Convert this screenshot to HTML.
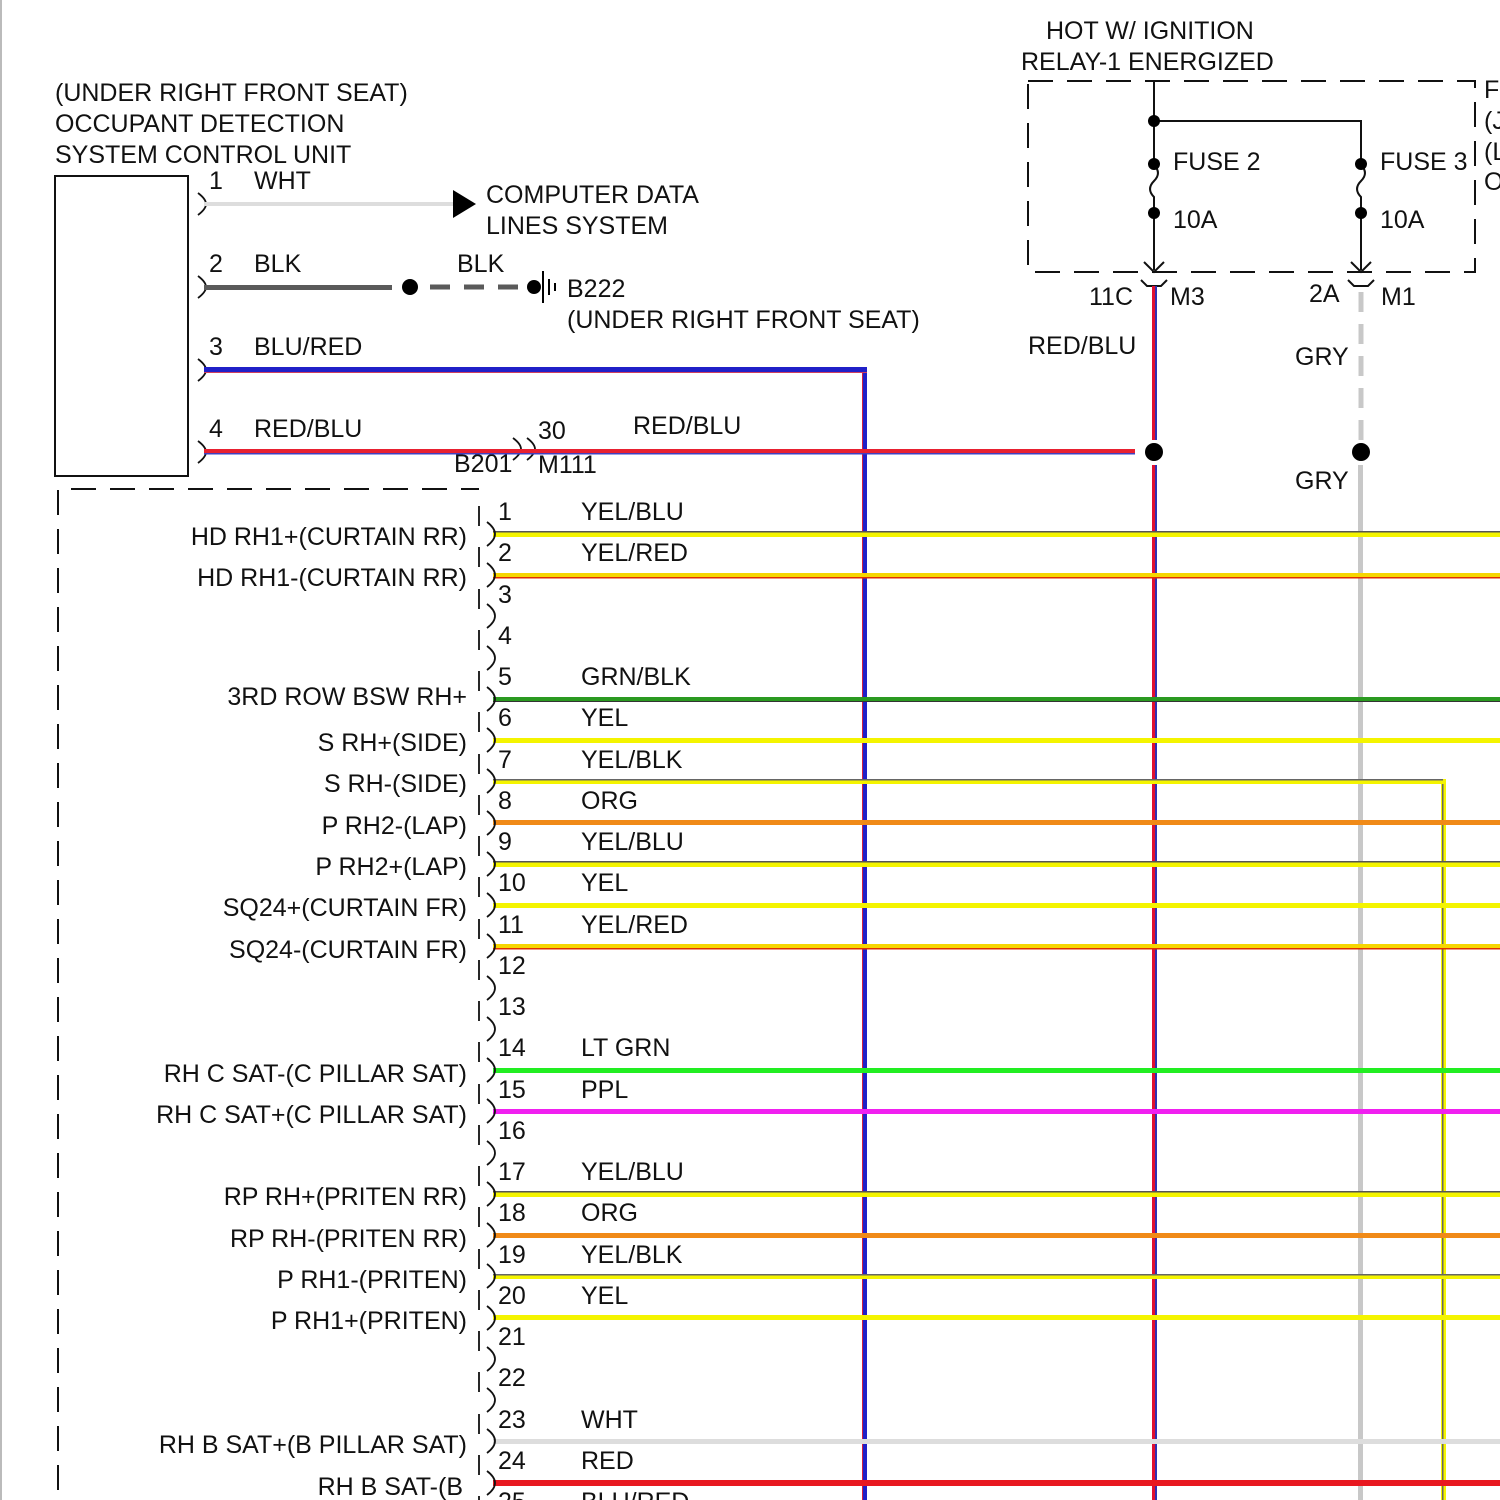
<!DOCTYPE html>
<html><head><meta charset="utf-8"><style>
html,body{margin:0;padding:0;background:#fff;width:1500px;height:1500px;overflow:hidden}
svg text{font-family:"Liberation Sans",Arial,sans-serif;font-size:25px;fill:#111}
</style></head><body>
<svg width="1500" height="1500" viewBox="0 0 1500 1500" xmlns="http://www.w3.org/2000/svg">
<rect x="0" y="0" width="2" height="1500" fill="#bbb"/>
<text x="55" y="101">(UNDER RIGHT FRONT SEAT)</text>
<text x="55" y="132">OCCUPANT DETECTION</text>
<text x="55" y="163">SYSTEM CONTROL UNIT</text>
<rect x="55" y="176" width="133" height="300" fill="none" stroke="#111" stroke-width="2"/>
<g fill="none" stroke="#111" stroke-width="1.8">
<path d="M198 193 q8 6 8 11 q0 5 -8 11"/>
<path d="M198 276 q8 6 8 11 q0 5 -8 11"/>
<path d="M198 359 q8 6 8 11 q0 5 -8 11"/>
<path d="M198 441 q8 6 8 11 q0 5 -8 11"/>
<path d="M513 438 q8 6 8 11 q0 5 -8 11"/>
<path d="M527 438 q8 6 8 11 q0 5 -8 11"/>
</g>
<text x="209" y="189">1</text><text x="254" y="189">WHT</text>
<text x="209" y="272">2</text><text x="254" y="272">BLK</text>
<text x="209" y="355">3</text><text x="254" y="355">BLU/RED</text>
<text x="209" y="437">4</text><text x="254" y="437">RED/BLU</text>
<rect x="204" y="202" width="250" height="4" fill="#ddd"/>
<polygon points="453,190 476,204 453,218" fill="#000"/>
<text x="486" y="203">COMPUTER DATA</text>
<text x="486" y="234">LINES SYSTEM</text>
<rect x="204" y="285" width="188" height="5" fill="#5a5a5a"/>
<circle cx="410" cy="287" r="8" fill="#000"/>
<line x1="430" y1="287" x2="530" y2="287" stroke="#5a5a5a" stroke-width="5" stroke-dasharray="20,14"/>
<circle cx="534" cy="287" r="7" fill="#000"/>
<line x1="543" y1="271" x2="543" y2="303" stroke="#000" stroke-width="2"/>
<line x1="549" y1="279" x2="549" y2="295" stroke="#000" stroke-width="2"/>
<line x1="555" y1="283" x2="555" y2="291" stroke="#000" stroke-width="2"/>
<text x="457" y="272">BLK</text>
<text x="567" y="297">B222</text>
<text x="567" y="328">(UNDER RIGHT FRONT SEAT)</text>
<text x="538" y="439">30</text><text x="633" y="434">RED/BLU</text>
<text x="454" y="472">B201</text><text x="538" y="473">M111</text>
<text x="1046" y="39">HOT W/ IGNITION</text>
<text x="1021" y="70">RELAY-1 ENERGIZED</text>
<rect x="1028" y="81" width="447" height="191" fill="none" stroke="#111" stroke-width="2" stroke-dasharray="25,14"/>
<text x="1484" y="98">F</text><text x="1484" y="129">(J</text><text x="1484" y="160">(L</text><text x="1484" y="190">O</text>
<g stroke="#111" stroke-width="2" fill="none">
<path d="M1154 81 V165"/><path d="M1154 121 H1361 V165"/>
<path d="M1154 165 q8 8 0 16 q-8 8 0 16 V270"/>
<path d="M1361 165 q8 8 0 16 q-8 8 0 16 V270"/>
<path d="M1144 262 L1154 272 L1164 262"/><path d="M1351 262 L1361 272 L1371 262"/>
<path d="M1141 280 l6 6 h14 l6 -6"/><path d="M1348 280 l6 6 h14 l6 -6"/>
</g>
<circle cx="1154" cy="121" r="6" fill="#000"/>
<circle cx="1154" cy="164" r="6" fill="#000"/><circle cx="1154" cy="213" r="6" fill="#000"/>
<circle cx="1361" cy="164" r="6" fill="#000"/><circle cx="1361" cy="213" r="6" fill="#000"/>
<text x="1173" y="170">FUSE 2</text><text x="1380" y="170">FUSE 3</text>
<text x="1173" y="228">10A</text><text x="1380" y="228">10A</text>
<text x="1089" y="305">11C</text><text x="1170" y="305">M3</text>
<text x="1309" y="302">2A</text><text x="1381" y="305">M1</text>
<text x="1028" y="354">RED/BLU</text>
<text x="1295" y="365">GRY</text><text x="1295" y="489">GRY</text>
<rect x="863" y="367" width="4" height="1133" fill="#2020c8"/>
<rect x="862" y="367" width="1" height="1133" fill="#d02040"/>
<rect x="1152" y="286" width="4" height="154" fill="#e01030"/><rect x="1155" y="286" width="2" height="154" fill="#3030b0"/>
<rect x="1152" y="465" width="4" height="1035" fill="#e01030"/><rect x="1155" y="465" width="2" height="1035" fill="#3030b0"/>
<line x1="1361" y1="292" x2="1361" y2="440" stroke="#c8c8c8" stroke-width="5" stroke-dasharray="20,12"/>
<rect x="1358" y="465" width="5" height="1035" fill="#c8c8c8"/>
<rect x="1441" y="781" width="5" height="719" fill="#f4f400"/><rect x="1442" y="783" width="1.5" height="717" fill="#666"/>
<circle cx="1154" cy="452" r="9" fill="#000"/><circle cx="1361" cy="452" r="9" fill="#000"/>
<rect x="204" y="367" width="663" height="5" fill="#2020c8"/><rect x="204" y="372" width="663" height="1" fill="#d04060"/>
<rect x="204" y="449" width="931" height="5" fill="#e82030"/><rect x="204" y="453" width="931" height="1.5" fill="#4040c0"/>
<path d="M58 1490 V489 H479" fill="none" stroke="#111" stroke-width="2" stroke-dasharray="25,14"/>
<g>
<rect x="493" y="532" width="1007" height="5" fill="#f4f400"/><rect x="493" y="531" width="1007" height="1.5" fill="#555"/>
<rect x="493" y="573" width="1007" height="5" fill="#f6d600"/><rect x="493" y="577" width="1007" height="1.5" fill="#e03000"/>
<rect x="493" y="697" width="1007" height="5" fill="#2a9a20"/><rect x="493" y="701" width="1007" height="1" fill="#333"/>
<rect x="493" y="738" width="1007" height="5" fill="#f4f400"/>
<rect x="493" y="779" width="953" height="5" fill="#f4f400"/><rect x="493" y="779" width="950" height="1.5" fill="#666"/>
<rect x="493" y="820" width="1007" height="5" fill="#f08a18"/>
<rect x="493" y="862" width="1007" height="5" fill="#f4f400"/><rect x="493" y="861" width="1007" height="1.5" fill="#555"/>
<rect x="493" y="903" width="1007" height="5" fill="#f4f400"/>
<rect x="493" y="944" width="1007" height="5" fill="#f6d600"/><rect x="493" y="948" width="1007" height="1.5" fill="#e03000"/>
<rect x="493" y="1068" width="1007" height="5" fill="#22ee22"/>
<rect x="493" y="1109" width="1007" height="5" fill="#f020f0"/>
<rect x="493" y="1192" width="1007" height="5" fill="#f4f400"/><rect x="493" y="1191" width="1007" height="1.5" fill="#555"/>
<rect x="493" y="1233" width="1007" height="5" fill="#f08a18"/>
<rect x="493" y="1274" width="1007" height="5" fill="#f4f400"/><rect x="493" y="1274" width="1007" height="1.5" fill="#666"/>
<rect x="493" y="1315" width="1007" height="5" fill="#f4f400"/>
<rect x="493" y="1439" width="1007" height="5" fill="#ddd"/>
<rect x="493" y="1480" width="1007" height="6" fill="#e81820"/>
</g>
<g fill="none" stroke="#111" stroke-width="1.8">
<path d="M479 506v20M487 522q8 6 8 12q0 6-8 12"/>
<path d="M479 547v20M487 563q8 6 8 12q0 6-8 12"/>
<path d="M479 589v20M487 604q8 6 8 12q0 6-8 12"/>
<path d="M479 630v20M487 646q8 6 8 12q0 6-8 12"/>
<path d="M479 671v20M487 687q8 6 8 12q0 6-8 12"/>
<path d="M479 712v20M487 728q8 6 8 12q0 6-8 12"/>
<path d="M479 754v20M487 769q8 6 8 12q0 6-8 12"/>
<path d="M479 795v20M487 811q8 6 8 12q0 6-8 12"/>
<path d="M479 836v20M487 852q8 6 8 12q0 6-8 12"/>
<path d="M479 877v20M487 893q8 6 8 12q0 6-8 12"/>
<path d="M479 919v20M487 934q8 6 8 12q0 6-8 12"/>
<path d="M479 960v20M487 976q8 6 8 12q0 6-8 12"/>
<path d="M479 1001v20M487 1017q8 6 8 12q0 6-8 12"/>
<path d="M479 1042v20M487 1058q8 6 8 12q0 6-8 12"/>
<path d="M479 1084v20M487 1099q8 6 8 12q0 6-8 12"/>
<path d="M479 1125v20M487 1141q8 6 8 12q0 6-8 12"/>
<path d="M479 1166v20M487 1182q8 6 8 12q0 6-8 12"/>
<path d="M479 1207v20M487 1223q8 6 8 12q0 6-8 12"/>
<path d="M479 1249v20M487 1264q8 6 8 12q0 6-8 12"/>
<path d="M479 1290v20M487 1306q8 6 8 12q0 6-8 12"/>
<path d="M479 1331v20M487 1347q8 6 8 12q0 6-8 12"/>
<path d="M479 1372v20M487 1388q8 6 8 12q0 6-8 12"/>
<path d="M479 1414v20M487 1429q8 6 8 12q0 6-8 12"/>
<path d="M479 1455v20M487 1471q8 6 8 12q0 6-8 12"/>
<path d="M479 1496v10"/>
</g>
<g>
<text x="498" y="520">1</text><text x="581" y="520">YEL/BLU</text>
<text x="498" y="561">2</text><text x="581" y="561">YEL/RED</text>
<text x="498" y="603">3</text>
<text x="498" y="644">4</text>
<text x="498" y="685">5</text><text x="581" y="685">GRN/BLK</text>
<text x="498" y="726">6</text><text x="581" y="726">YEL</text>
<text x="498" y="768">7</text><text x="581" y="768">YEL/BLK</text>
<text x="498" y="809">8</text><text x="581" y="809">ORG</text>
<text x="498" y="850">9</text><text x="581" y="850">YEL/BLU</text>
<text x="498" y="891">10</text><text x="581" y="891">YEL</text>
<text x="498" y="933">11</text><text x="581" y="933">YEL/RED</text>
<text x="498" y="974">12</text>
<text x="498" y="1015">13</text>
<text x="498" y="1056">14</text><text x="581" y="1056">LT GRN</text>
<text x="498" y="1098">15</text><text x="581" y="1098">PPL</text>
<text x="498" y="1139">16</text>
<text x="498" y="1180">17</text><text x="581" y="1180">YEL/BLU</text>
<text x="498" y="1221">18</text><text x="581" y="1221">ORG</text>
<text x="498" y="1263">19</text><text x="581" y="1263">YEL/BLK</text>
<text x="498" y="1304">20</text><text x="581" y="1304">YEL</text>
<text x="498" y="1345">21</text>
<text x="498" y="1386">22</text>
<text x="498" y="1428">23</text><text x="581" y="1428">WHT</text>
<text x="498" y="1469">24</text><text x="581" y="1469">RED</text>
<text x="498" y="1510">25</text><text x="581" y="1510">BLU/RED</text>
</g>
<g text-anchor="end">
<text x="467" y="545">HD RH1+(CURTAIN RR)</text>
<text x="467" y="586">HD RH1-(CURTAIN RR)</text>
<text x="467" y="705">3RD ROW BSW RH+</text>
<text x="467" y="751">S RH+(SIDE)</text>
<text x="467" y="792">S RH-(SIDE)</text>
<text x="467" y="834">P RH2-(LAP)</text>
<text x="467" y="875">P RH2+(LAP)</text>
<text x="467" y="916">SQ24+(CURTAIN FR)</text>
<text x="467" y="958">SQ24-(CURTAIN FR)</text>
<text x="467" y="1082">RH C SAT-(C PILLAR SAT)</text>
<text x="467" y="1123">RH C SAT+(C PILLAR SAT)</text>
<text x="467" y="1205">RP RH+(PRITEN RR)</text>
<text x="467" y="1247">RP RH-(PRITEN RR)</text>
<text x="467" y="1288">P RH1-(PRITEN)</text>
<text x="467" y="1329">P RH1+(PRITEN)</text>
<text x="467" y="1453">RH B SAT+(B PILLAR SAT)</text>
<text x="463" y="1495">RH B SAT-(B</text>
</g>
</svg>
</body></html>
